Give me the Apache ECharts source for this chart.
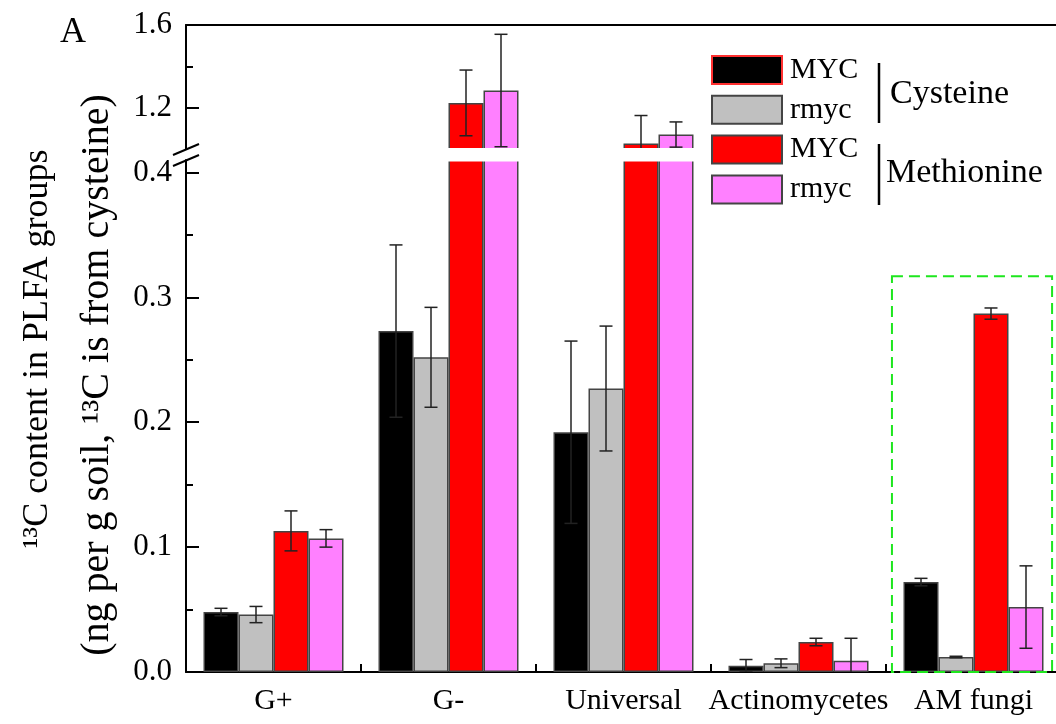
<!DOCTYPE html>
<html>
<head>
<meta charset="utf-8">
<script src="https://cdn.jsdelivr.net/npm/echarts@6/dist/echarts.min.js"></script>
<style>
  html, body { margin: 0; padding: 0; background: #ffffff; }
  #chart { width: 1056px; height: 724px; }
</style>
</head>
<body>
<div id="chart"></div>
<script>
// PLFA groups on the category axis
const categories = ['G+', 'G-', 'Universal', 'Actinomycetes', 'AM fungi'];

// 13C content (ng per g soil) and standard errors, cysteine-labelled soils
const cysMyc      = [0.048, 0.273, 0.192, 0.005, 0.072];
const cysMycErr   = [0.003, 0.069, 0.073, 0.005, 0.003];
const cysRmyc     = [0.046, 0.252, 0.227, 0.007, 0.012];
const cysRmycErr  = [0.0065, 0.040, 0.050, 0.0035, 0.0006];

// methionine-labelled soils
const metMyc      = [0.113, 1.223, 1.027, 0.024, 0.287];
const metMycErr   = [0.016, 0.159, 0.135, 0.003, 0.0045];
const metRmyc     = [0.107, 1.283, 1.070, 0.009, 0.052];
const metRmycErr  = [0.007, 0.272, 0.061, 0.018, 0.033];

// broken value axis: lower and upper segments with their tick labels
const lowerTicks = [0, 0.1, 0.2, 0.3, 0.4];
const lowerMinorTicks = [0.05, 0.15, 0.25, 0.35];
const upperTicks = [1.2, 1.6];
const upperMinorTicks = [1.4];

const seriesNames = ['MYC-Cysteine', 'rmyc-Cysteine', 'MYC-Methionine', 'rmyc-Methionine'];
const seriesValues = [cysMyc, cysRmyc, metMyc, metRmyc];
const seriesErrors = [cysMycErr, cysRmycErr, metMycErr, metRmycErr];

// styling
const FONT = '"Liberation Serif", "Times New Roman", Times, serif';
const fills = ['#000000', '#c0c0c0', '#ff0000', '#ff80ff'];
const BORDER = '#444444';
const AXIS = { color: '#000', width: 2 };

// layout of the two stacked grids (upper segment sits above the break)
const PLOT_LEFT = 186, PLOT_WIDTH = 875;
const UPPER_TOP = 25, UPPER_HEIGHT = 124;
const LOWER_TOP = 160, LOWER_BOTTOM = 52;

const chart = echarts.init(document.getElementById('chart'), null, { renderer: 'canvas' });

function barSeries(gridIdx) {
  return seriesNames.map((name, i) => ({
    type: 'bar',
    name: name,
    xAxisIndex: gridIdx,
    yAxisIndex: gridIdx === 0 ? 0 : 2,
    data: seriesValues[i],
    barGap: '0%',
    barCategoryGap: '20%',
    clip: true,
    itemStyle: { color: fills[i], borderColor: BORDER, borderWidth: 1.5 },
    emphasis: { disabled: true },
    z: 2
  }));
}

// error bars: [category index, mean, error, series slot]
const errData = [];
seriesValues.forEach((vals, s) => {
  vals.forEach((v, c) => errData.push([c, v, seriesErrors[s][c], s]));
});

function renderErrorBar(params, api) {
  const c = api.value(0), v = api.value(1), e = api.value(2), s = api.value(3);
  const band = api.size([1, 0])[0];
  const barW = band * 0.8 / 4;
  const cx = api.coord([c, v])[0] + (s - 1.5) * barW;
  const hi = api.coord([c, v + e])[1];
  const lo = api.coord([c, v - e])[1];
  const cap = 6.5;
  const st = { stroke: '#222', lineWidth: 1.5 };
  return {
    type: 'group',
    children: [
      { type: 'line', shape: { x1: cx, y1: hi, x2: cx, y2: lo }, style: st },
      { type: 'line', shape: { x1: cx - cap, y1: hi, x2: cx + cap, y2: hi }, style: st },
      { type: 'line', shape: { x1: cx - cap, y1: lo, x2: cx + cap, y2: lo }, style: st }
    ]
  };
}

function errSeries(gridIdx) {
  return {
    type: 'custom',
    name: 'error-' + gridIdx,
    xAxisIndex: gridIdx,
    yAxisIndex: gridIdx === 0 ? 0 : 2,
    data: errData,
    clip: true,
    renderItem: renderErrorBar,
    z: 5,
    silent: true
  };
}

const labelStyle = { fontSize: 31, fontFamily: FONT, color: '#000' };

const option = {
  animation: false,
  backgroundColor: '#ffffff',
  grid: [
    { left: PLOT_LEFT, width: PLOT_WIDTH, top: UPPER_TOP, height: UPPER_HEIGHT, containLabel: false, outerBoundsMode: 'none' },
    { left: PLOT_LEFT, width: PLOT_WIDTH, top: LOWER_TOP, bottom: LOWER_BOTTOM, containLabel: false, outerBoundsMode: 'none' }
  ],
  xAxis: [
    {
      gridIndex: 0, type: 'category', data: categories, position: 'top',
      axisLine: { show: true, onZero: false, lineStyle: AXIS },
      axisTick: { show: false }, axisLabel: { show: false }, splitLine: { show: false }
    },
    {
      gridIndex: 1, type: 'category', data: categories, position: 'bottom',
      axisLine: { show: true, onZero: false, lineStyle: AXIS },
      axisTick: { show: true, inside: true, length: 8, lineStyle: AXIS },
      axisLabel: { interval: 0, margin: 14, fontSize: 30, fontFamily: FONT, color: '#000' },
      splitLine: { show: false }
    }
  ],
  yAxis: [
    {
      gridIndex: 0, type: 'value', position: 'left', min: 1.0, max: 1.6,
      axisLine: { show: true, onZero: false, lineStyle: AXIS },
      axisTick: { show: true, inside: true, length: 13, customValues: upperTicks, lineStyle: AXIS },
      axisLabel: Object.assign({ customValues: upperTicks, margin: 14, formatter: v => v.toFixed(1) }, labelStyle),
      splitLine: { show: false }
    },
    {
      gridIndex: 0, type: 'value', position: 'left', min: 1.0, max: 1.6,
      axisLine: { show: false },
      axisTick: { show: true, inside: true, length: 7, customValues: upperMinorTicks, lineStyle: AXIS },
      axisLabel: { show: false }, splitLine: { show: false }
    },
    {
      gridIndex: 1, type: 'value', position: 'left', min: 0, max: 0.41,
      axisLine: { show: true, onZero: false, lineStyle: AXIS },
      axisTick: { show: true, inside: true, length: 13, customValues: lowerTicks, lineStyle: AXIS },
      axisLabel: Object.assign({ customValues: lowerTicks, margin: 14, formatter: v => v.toFixed(1) }, labelStyle),
      splitLine: { show: false }
    },
    {
      gridIndex: 1, type: 'value', position: 'left', min: 0, max: 0.41,
      axisLine: { show: false },
      axisTick: { show: true, inside: true, length: 7, customValues: lowerMinorTicks, lineStyle: AXIS },
      axisLabel: { show: false }, splitLine: { show: false }
    }
  ],
  legend: {
    orient: 'vertical',
    left: 711, top: 55, padding: 0, z: 100,
    itemWidth: 70, itemHeight: 28, itemGap: 9.8,
    icon: 'rect',
    selectedMode: false,
    textStyle: { fontSize: 30, fontFamily: FONT, color: '#000', lineHeight: 28, padding: [0, 0, 0, 3] },
    formatter: name => name.split('-')[0],
    data: [
      { name: seriesNames[0], itemStyle: { borderColor: '#ff3030', borderWidth: 2 } },
      seriesNames[1], seriesNames[2], seriesNames[3]
    ]
  },
  series: [].concat(barSeries(0), barSeries(1), [errSeries(0), errSeries(1)]),
  graphic: {
    elements: [
      // white band hiding the clipped bar edges at the axis break
      { type: 'rect', id: 'breakBand', z: 50, silent: true,
        shape: { x: PLOT_LEFT + 1.5, y: UPPER_TOP + UPPER_HEIGHT - 1, width: PLOT_WIDTH, height: LOWER_TOP - UPPER_TOP - UPPER_HEIGHT + 2.5 },
        style: { fill: '#ffffff' } },
      // break marks on the value axis
      { type: 'line', id: 'break1', z: 60, silent: true,
        shape: { x1: PLOT_LEFT - 13, y1: UPPER_TOP + UPPER_HEIGHT + 6, x2: PLOT_LEFT + 13, y2: UPPER_TOP + UPPER_HEIGHT - 5 },
        style: { stroke: '#000', lineWidth: 2 } },
      { type: 'line', id: 'break2', z: 60, silent: true,
        shape: { x1: PLOT_LEFT - 13, y1: LOWER_TOP + 6, x2: PLOT_LEFT + 13, y2: LOWER_TOP - 5 },
        style: { stroke: '#000', lineWidth: 2 } },
      // panel letter
      { type: 'text', id: 'panel', x: 73, y: 33, z: 60,
        style: { text: 'A', fontSize: 36, fontFamily: FONT, fill: '#000', align: 'center', verticalAlign: 'middle' } },
      // value axis title (two lines)
      { type: 'text', id: 'yTitle1', x: 38, y: 349, rotation: Math.PI / 2, z: 60,
        style: { text: '¹³C content in PLFA groups', fontSize: 36, fontFamily: FONT, fill: '#000', align: 'center', verticalAlign: 'middle' } },
      { type: 'text', id: 'yTitle2', x: 97, y: 375, rotation: Math.PI / 2, z: 60,
        style: { text: '(ng per g soil, ¹³C is from cysteine)', fontSize: 40, fontFamily: FONT, fill: '#000', align: 'center', verticalAlign: 'middle' } },
      // legend group brackets and labels
      { type: 'line', id: 'brCys', z: 60, shape: { x1: 879, y1: 63, x2: 879, y2: 123 }, style: { stroke: '#000', lineWidth: 2.5 } },
      { type: 'line', id: 'brMet', z: 60, shape: { x1: 879, y1: 144, x2: 879, y2: 205 }, style: { stroke: '#000', lineWidth: 2.5 } },
      { type: 'text', id: 'lblCys', x: 890, y: 94, z: 60,
        style: { text: 'Cysteine', fontSize: 34, fontFamily: FONT, fill: '#000', align: 'left', verticalAlign: 'middle' } },
      { type: 'text', id: 'lblMet', x: 886, y: 173, z: 60,
        style: { text: 'Methionine', fontSize: 34, fontFamily: FONT, fill: '#000', align: 'left', verticalAlign: 'middle' } }
    ]
  }
};

chart.setOption(option);

// dashed highlight around the AM fungi group, placed through the axes
const amIdx = categories.indexOf('AM fungi');
const cx = chart.convertToPixel({ xAxisIndex: 1 }, amIdx);
const band = cx - chart.convertToPixel({ xAxisIndex: 1 }, amIdx - 1);
const yTop = chart.convertToPixel({ yAxisIndex: 2 }, 0.317);
const yBase = chart.convertToPixel({ yAxisIndex: 2 }, 0);
chart.setOption({
  graphic: {
    elements: [{
      type: 'rect', id: 'amBox', z: 40, silent: true,
      shape: { x: cx - band * 0.466, y: yTop, width: band * 0.915, height: yBase - yTop },
      style: { fill: 'none', stroke: '#1ee61e', lineWidth: 2, lineDash: [11, 6] }
    }]
  }
});
</script>
</body>
</html>
